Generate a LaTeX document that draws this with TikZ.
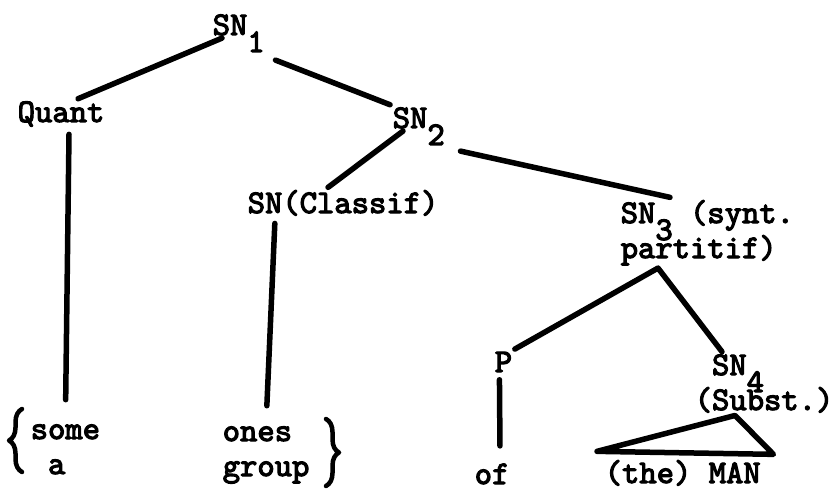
\documentclass[tikz,border=0pt]{standalone}
\usepackage{fontspec}
\usetikzlibrary{decorations.pathreplacing}
\newfontfamily\typed{lmmono10-regular.otf}[FakeBold=3.5]
\newcommand{\nsub}[1]{\smash{\raisebox{-17pt}{#1}}}
\begin{document}
\begin{tikzpicture}[x=1pt, y=-1pt, line width=5.5pt, line cap=round, line join=round,
  every node/.style={font=\typed\fontsize{33}{35}\selectfont, inner sep=0pt, anchor=base west, align=left},
  stem/.style={shorten <=5pt, shorten >=#1},
  curly/.style={decorate, decoration={brace, amplitude=13pt}, line width=4.5pt}]
  \useasboundingbox (0,0) rectangle (835,492);
  \node (sn1) at (210,35) {SN\nsub{1}};
  \node (quant) at (15,122) {Quant};
  \node (sn2) at (390,128) {SN\nsub{2}};
  \node (classif) at (245,213) {SN(Classif)};
  \node (sn3) at (618,258) {SN\nsub{3} (synt.\\partitif)};
  \node (p) at (492,372) {P};
  \node (sn4) at (692,410) {\hphantom{(}SN\nsub{4}\\(Subst.)};
  \node (some) at (28,474) {some\\\hphantom{s}a};
  \node (ones) at (220,476) {ones\\group};
  \node (of) at (472,484) {of};
  \node (man) at (602,483) {(the) MAN};
  \draw[curly] (22,472) -- (22,409);
  \draw[curly] (326,419) -- (326,486);
  \draw ([xshift=12pt]sn1.south west) -- ([xshift=17pt]quant.north);
  \draw ([shift={(8pt,-22pt)}]sn1.south east) -- (sn2.north west);
  \draw ([xshift=13pt]sn2.south west) -- ([xshift=-15pt]classif.north);
  \draw ([shift={(13pt,-20pt)}]sn2.south east) -- ([xshift=52pt]sn3.north west);
  \draw[stem=22pt] ([xshift=8pt]quant.south) -- (some.north);
  \draw[stem=18pt] ([xshift=-68pt]classif.south) -- (ones.north);
  \draw (p.north east) -- ([xshift=40pt]sn3.south west) -- ([xshift=30pt]sn4.north west);
  \draw[stem=15pt] ([xshift=-4pt]p.south) -- ([xshift=8pt]of.north);
  \draw ([xshift=-29pt]sn4.south) -- ([shift={(-5pt,6pt)}]man.north west) -- ([shift={(10pt,3pt)}]man.north east) -- cycle;
\end{tikzpicture}
\end{document}
